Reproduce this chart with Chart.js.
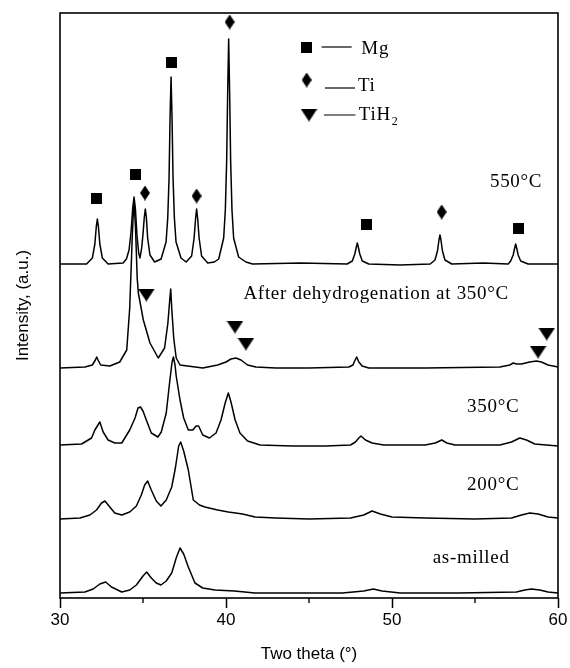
<!DOCTYPE html>
<html>
<head>
<meta charset="utf-8">
<script src="https://cdn.jsdelivr.net/npm/chart.js@4.4.1/dist/chart.umd.min.js"></script>
<style>
  body { margin: 0; background: #fff; }
</style>
</head>
<body>
<canvas id="graficoXRD" width="570" height="668"></canvas>
<script>
// 2theta (deg) and stacked intensity (a.u.)
var theta550 = [30.0, 31.6, 31.95, 32.1, 32.19, 32.25, 32.31, 32.4, 32.55, 32.9, 33.8, 34.0, 34.16, 34.28, 34.38, 34.46, 34.54, 34.64, 34.74, 34.82, 34.92, 35.0, 35.08, 35.14, 35.2, 35.28, 35.42, 35.7, 36.09, 36.39, 36.49, 36.57, 36.63, 36.69, 36.75, 36.81, 36.89, 36.99, 37.29, 37.6, 37.93, 38.08, 38.17, 38.23, 38.29, 38.38, 38.53, 38.9, 39.3, 39.56, 39.86, 39.96, 40.04, 40.1, 40.16, 40.22, 40.28, 40.36, 40.46, 40.76, 41.2, 41.6, 44.5, 47.3, 47.61, 47.76, 47.85, 47.91, 47.97, 48.06, 48.21, 48.6, 50.5, 52.3, 52.59, 52.74, 52.83, 52.89, 52.95, 53.04, 53.19, 53.6, 55.5, 57.0, 57.15, 57.3, 57.39, 57.45, 57.51, 57.6, 57.75, 58.2, 60.0];
var int550 = [334, 334, 340, 354, 372, 379, 372, 354, 340, 334, 335, 339, 348, 366, 390, 401, 390, 362, 345, 340, 350, 364, 381, 389, 381, 360, 343, 336, 339, 356, 380, 420, 480, 521, 480, 420, 380, 356, 340, 336, 342, 360, 380, 389, 380, 360, 342, 335, 336, 339, 360, 388, 437, 505, 559, 505, 437, 388, 360, 341, 336, 334, 335, 334, 337, 344, 351, 355, 351, 344, 337, 334, 333, 334, 338, 347, 358, 363, 358, 347, 338, 334, 335, 334, 337, 343, 350, 354, 350, 343, 337, 334, 334];

var thetaDehyd = [30.0, 31.5, 31.95, 32.13, 32.21, 32.29, 32.45, 33.0, 33.6, 34.02, 34.2, 34.35, 34.45, 34.55, 34.65, 34.72, 35.02, 35.42, 35.92, 36.3, 36.5, 36.62, 36.67, 36.73, 36.85, 37.0, 37.23, 38.6, 39.5, 40.0, 40.3, 40.6, 40.9, 41.3, 41.8, 43.0, 45.0, 47.4, 47.65, 47.75, 47.87, 48.0, 48.2, 48.6, 52.0, 56.5, 57.1, 57.3, 57.5, 57.8, 58.3, 58.7, 59.0, 59.4, 60.0];
var intDehyd = [230, 231, 233, 238, 241, 238, 233, 232, 236, 248, 290, 360, 398, 370, 320, 305, 278, 255, 240, 250, 275, 300, 309, 290, 260, 240, 233, 230, 233, 236, 239, 240, 238, 233, 231, 230, 230, 231, 233, 237, 241, 236, 232, 230, 230, 231, 233, 235, 234, 234, 236, 237, 236, 233, 231];

var theta350 = [30.0, 31.3, 31.9, 32.1, 32.4, 32.6, 32.9, 33.3, 33.72, 34.2, 34.52, 34.7, 34.85, 35.0, 35.2, 35.5, 35.9, 36.1, 36.4, 36.6, 36.75, 36.83, 36.93, 37.0, 37.23, 37.45, 37.73, 38.0, 38.2, 38.35, 38.6, 39.0, 39.4, 39.7, 39.95, 40.14, 40.3, 40.55, 40.84, 41.3, 42.05, 44.0, 46.0, 47.5, 47.8, 48.0, 48.13, 48.4, 48.8, 49.5, 52.0, 52.6, 53.0, 53.3, 53.8, 56.5, 57.2, 57.7, 58.1, 58.6, 60.0];
var int350 = [153, 154, 160, 168, 176, 166, 158, 155, 155, 168, 180, 190, 191, 187, 178, 165, 161, 166, 185, 215, 236, 241, 233, 222, 198, 180, 168, 168, 172, 172, 163, 160, 165, 178, 195, 205, 196, 178, 165, 157, 153, 152, 152, 153, 156, 160, 162, 158, 155, 153, 153, 155, 158, 155, 153, 153, 156, 160, 158, 154, 152];

var theta200 = [30.0, 31.2, 31.8, 32.2, 32.5, 32.71, 32.95, 33.3, 33.72, 34.2, 34.6, 34.9, 35.1, 35.28, 35.5, 35.8, 36.08, 36.4, 36.73, 36.95, 37.15, 37.27, 37.45, 37.73, 38.03, 38.4, 38.73, 39.5, 40.14, 41.0, 41.75, 43.0, 45.0, 47.5, 48.3, 48.8, 49.3, 50.0, 52.0, 55.0, 57.2, 57.8, 58.3, 58.8, 59.4, 60.0];
var int200 = [79, 80, 83, 88, 95, 97, 92, 85, 83, 86, 92, 103, 113, 117, 108, 97, 92, 98, 111, 130, 152, 156, 147, 128, 98, 93, 91, 88, 86, 84, 81, 80, 79, 80, 83, 87, 84, 81, 80, 79, 80, 83, 85, 84, 81, 80];

var thetaMilled = [30.0, 31.5, 32.0, 32.4, 32.75, 33.1, 33.72, 34.2, 34.6, 35.0, 35.22, 35.5, 35.8, 36.08, 36.4, 36.73, 37.0, 37.23, 37.45, 37.73, 38.13, 38.6, 39.34, 40.5, 41.75, 44.0, 47.0, 48.3, 48.87, 49.4, 50.5, 54.0, 57.5, 58.0, 58.4, 58.9, 59.4, 60.0];
var intMilled = [5, 6, 9, 14, 16, 11, 6, 8, 13, 22, 26, 20, 15, 13, 17, 25, 40, 50, 44, 31, 15, 10, 8, 7, 5, 5, 5, 7, 9, 7, 5, 5, 6, 8, 9, 8, 6, 5];

// phase markers above the peaks
var mgTheta = [32.17, 34.52, 36.69, 48.48, 57.63];
var mgInt = [400, 424, 536, 374, 370];
var tiTheta = [35.12, 38.23, 40.22, 52.99];
var tiInt = [405, 402, 576, 386];
var tih2Theta = [35.2, 40.54, 41.2, 58.8, 59.32];
var tih2Int = [303, 271, 254, 246, 264];

var xTicks = [30, 40, 50, 60];

// text placed in data units
var rotulos = [
    { texto: '550°C', theta: 55.9, i: 416 },
    { texto: 'After dehydrogenation at 350°C', theta: 41.05, i: 304 },
    { texto: '350°C', theta: 54.52, i: 191 },
    { texto: '200°C', theta: 54.52, i: 113 },
    { texto: 'as-milled', theta: 52.45, i: 40 }
];

function marcador(w, h, forma) {
    var c = document.createElement('canvas');
    c.width = w; c.height = h;
    var g = c.getContext('2d');
    g.fillStyle = '#000';
    g.beginPath();
    forma(g, w, h);
    g.fill();
    return c;
}
var quadrado = marcador(11, 11, function (g, w, h) { g.rect(0, 0, w, h); });
var losango = marcador(10, 15, function (g, w, h) {
    g.moveTo(w / 2, 0); g.lineTo(w, h / 2); g.lineTo(w / 2, h); g.lineTo(0, h / 2); g.closePath();
});
var triangulo = marcador(17, 13, function (g, w, h) {
    g.moveTo(0, 0); g.lineTo(w, 0); g.lineTo(w / 2, h); g.closePath();
});

var legenda = [
    { img: quadrado, theta: 44.86, i: 551, linha: [45.76, 47.57], iLinha: 551, texto: 'Mg', sub: '', tTheta: 48.15, tI: 549 },
    { img: losango, theta: 44.86, i: 518, linha: [45.96, 47.77], iLinha: 510, texto: 'Ti', sub: '', tTheta: 47.95, tI: 512 },
    { img: triangulo, theta: 45.0, i: 483, linha: [45.9, 47.8], iLinha: 483, texto: 'TiH', sub: '2', tTheta: 48.0, tI: 483 }
];

function pontos(xs, ys) {
    return xs.map(function (v, k) { return { x: v, y: ys[k] }; });
}

function curva(xs, ys) {
    return {
        data: pontos(xs, ys),
        showLine: true,
        borderColor: '#000',
        borderWidth: 1.5,
        borderJoinStyle: 'round',
        pointRadius: 0,
        tension: 0
    };
}

function marcas(xs, ys, img) {
    return {
        data: pontos(xs, ys),
        showLine: false,
        pointStyle: img,
        pointRadius: 5
    };
}

var anotacoes = {
    id: 'anotacoes',
    afterDatasetsDraw: function (chart) {
        var ctx = chart.ctx, x = chart.scales.x, y = chart.scales.y;
        ctx.save();
        ctx.fillStyle = '#000';
        ctx.strokeStyle = '#000';
        ctx.textBaseline = 'middle';
        ctx.textAlign = 'left';
        ctx.font = '19px "Liberation Serif"';
        ctx.letterSpacing = '0.7px';
        rotulos.forEach(function (r) {
            ctx.fillText(r.texto, x.getPixelForValue(r.theta), y.getPixelForValue(r.i));
        });

        ctx.lineWidth = 1.2;
        legenda.forEach(function (l) {
            var px = x.getPixelForValue(l.theta), py = y.getPixelForValue(l.i);
            ctx.drawImage(l.img, px - l.img.width / 2, py - l.img.height / 2);
            var yl = y.getPixelForValue(l.iLinha);
            ctx.beginPath();
            ctx.moveTo(x.getPixelForValue(l.linha[0]), yl);
            ctx.lineTo(x.getPixelForValue(l.linha[1]), yl);
            ctx.stroke();
            var tx = x.getPixelForValue(l.tTheta), ty = y.getPixelForValue(l.tI);
            ctx.font = '19px "Liberation Serif"';
            ctx.fillText(l.texto, tx, ty);
            if (l.sub) {
                var w = ctx.measureText(l.texto).width;
                ctx.font = '12px "Liberation Serif"';
                ctx.fillText(l.sub, tx + w + 1, ty + 7);
            }
        });
        ctx.restore();
    },
    afterDraw: function (chart) {
        var ctx = chart.ctx, a = chart.chartArea, x = chart.scales.x;
        ctx.save();
        ctx.strokeStyle = '#000';
        ctx.lineWidth = 1.6;
        ctx.strokeRect(a.left, a.top, a.right - a.left, a.bottom - a.top);
        // minor ticks (every 5 deg)
        ctx.lineWidth = 1.4;
        x.ticks.forEach(function (t) {
            if (xTicks.indexOf(t.value) !== -1) return;
            var px = x.getPixelForValue(t.value);
            ctx.beginPath();
            ctx.moveTo(px, a.bottom);
            ctx.lineTo(px, a.bottom + 5);
            ctx.stroke();
        });
        ctx.restore();
    }
};

var grafico = document.getElementById('graficoXRD');

new Chart(grafico, {
    type: 'scatter',
    data: {
        datasets: [
            curva(theta550, int550),
            curva(thetaDehyd, intDehyd),
            curva(theta350, int350),
            curva(theta200, int200),
            curva(thetaMilled, intMilled),
            marcas(mgTheta, mgInt, quadrado),
            marcas(tiTheta, tiInt, losango),
            marcas(tih2Theta, tih2Int, triangulo)
        ]
    },
    options: {
        responsive: false,
        animation: false,
        layout: { padding: { top: 13, right: 12, left: 0, bottom: 0 } },
        plugins: {
            legend: { display: false },
            tooltip: { enabled: false }
        },
        scales: {
            x: {
                type: 'linear',
                min: 30,
                max: 60,
                afterFit: function (s) { s.height = 70; },
                border: { display: false },
                grid: {
                    drawOnChartArea: false,
                    tickLength: 10,
                    tickWidth: 1.5,
                    tickColor: function (c) {
                        return c.tick && xTicks.indexOf(c.tick.value) !== -1 ? '#000' : 'rgba(0,0,0,0)';
                    }
                },
                ticks: {
                    stepSize: 5,
                    autoSkip: false,
                    maxRotation: 0,
                    padding: 2,
                    color: '#000',
                    font: { family: 'Liberation Sans', size: 17 },
                    callback: function (v) { return xTicks.indexOf(v) !== -1 ? v : ''; }
                },
                title: {
                    display: true,
                    text: 'Two theta (°)',
                    color: '#000',
                    font: { family: 'Liberation Sans', size: 17 },
                    padding: { top: 0, bottom: 3 }
                }
            },
            y: {
                min: 0,
                max: 585,
                afterFit: function (s) { s.width = 60; },
                border: { display: false },
                grid: { display: false },
                ticks: { display: false },
                title: {
                    display: true,
                    text: 'Intensity, (a.u.)',
                    color: '#000',
                    font: { family: 'Liberation Sans', size: 17 },
                    padding: { top: 13, bottom: 0 }
                }
            }
        }
    },
    plugins: [anotacoes]
});
</script>
</body>
</html>
